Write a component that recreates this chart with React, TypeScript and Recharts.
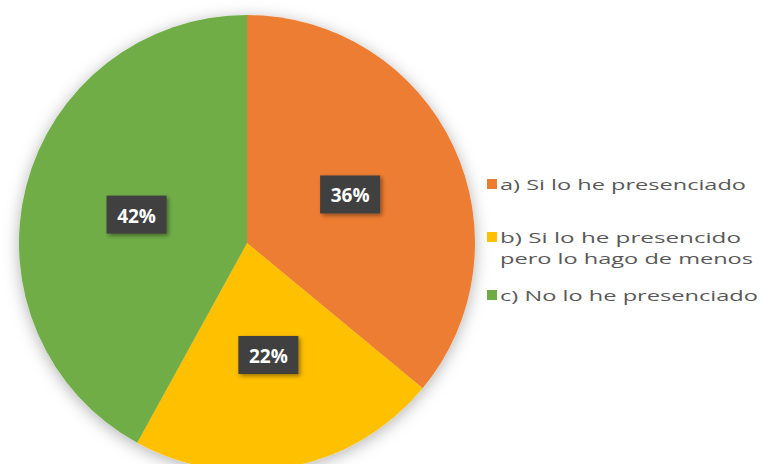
import React from "react";
import { PieChart, Pie, Cell, Legend } from "recharts";

// valores
const categories = [
  "a) Si lo he presenciado",
  "b) Si lo he presencido\npero lo hago de menos",
  "c) No lo he presenciado",
];
const values = [36, 22, 42];
const colors = ["#ED7D31", "#FFC000", "#70AD47"];

const data = categories.map((name, i) => ({ name, value: values[i] }));

const RAD = Math.PI / 180;

function renderLabel(props: any) {
  const { cx, cy, midAngle, outerRadius, percent } = props;
  const r = outerRadius * 0.5;
  const x = cx + r * Math.cos(-midAngle * RAD);
  const y = cy + r * Math.sin(-midAngle * RAD);
  return (
    <g>
      <rect
        x={x - 30}
        y={y - 19}
        width={60}
        height={38}
        fill="#3f3f3f"
        filter="url(#boxShadow)"
      />
      <text
        x={x}
        y={y + 1}
        fill="#ffffff"
        textAnchor="middle"
        dominantBaseline="central"
        fontFamily="Open Sans"
        fontWeight={700}
        fontSize={19}
      >
        {`${Math.round(percent * 100)}%`}
      </text>
    </g>
  );
}

// ancho de cada linea de la leyenda (el texto original esta estirado)
const lineWidths = [[246], [241, 253], [258]];
const rowY = [34, 87, 145];

function LegendContent(props: any) {
  const payload = props.payload || [];
  return (
    <svg width={282} height={200}>
      {payload.map((entry: any, i: number) => {
        const lines = String(entry.value).split("\n");
        const y0 = rowY[i];
        return (
          <g key={i}>
            <rect x={7} y={y0 - 5} width={10} height={10} fill={entry.color} />
            {lines.map((line, j) => (
              <text
                key={j}
                x={20}
                y={y0 + j * 21}
                dominantBaseline="central"
                fontFamily="Open Sans"
                fontSize={15}
                fill="#595959"
                textLength={lineWidths[i][j]}
                lengthAdjust="spacingAndGlyphs"
              >
                {line}
              </text>
            ))}
          </g>
        );
      })}
    </svg>
  );
}

export default function App() {
  return (
    <div style={{ width: 762, height: 464, background: "#fff" }}>
      <style>{`body{margin:0;background:#fff}.recharts-pie{filter:url(#pieShadow)}`}</style>
      <svg width={0} height={0} style={{ position: "absolute" }}>
        <defs>
          <filter id="pieShadow" x="-20%" y="-20%" width="140%" height="140%">
            <feDropShadow dx={0} dy={3} stdDeviation={8} floodColor="#000" floodOpacity={0.3} />
          </filter>
          <filter id="boxShadow" x="-30%" y="-30%" width="160%" height="160%">
            <feDropShadow dx={2} dy={2} stdDeviation={2} floodColor="#000" floodOpacity={0.4} />
          </filter>
        </defs>
      </svg>
      <PieChart width={762} height={464} margin={{ top: 0, right: 0, bottom: 0, left: 0 }}>
        <Pie
          data={data}
          dataKey="value"
          nameKey="name"
          cx={247}
          cy={243}
          outerRadius={228}
          startAngle={90}
          endAngle={-270}
          stroke="none"
          labelLine={false}
          label={renderLabel}
          isAnimationActive={false}
        >
          {data.map((d, i) => (
            <Cell key={d.name} fill={colors[i]} />
          ))}
        </Pie>
        <Legend
          layout="vertical"
          align="right"
          verticalAlign="top"
          content={<LegendContent />}
          wrapperStyle={{ left: 480, right: "auto", top: 150, width: 282 }}
        />
      </PieChart>
    </div>
  );
}
